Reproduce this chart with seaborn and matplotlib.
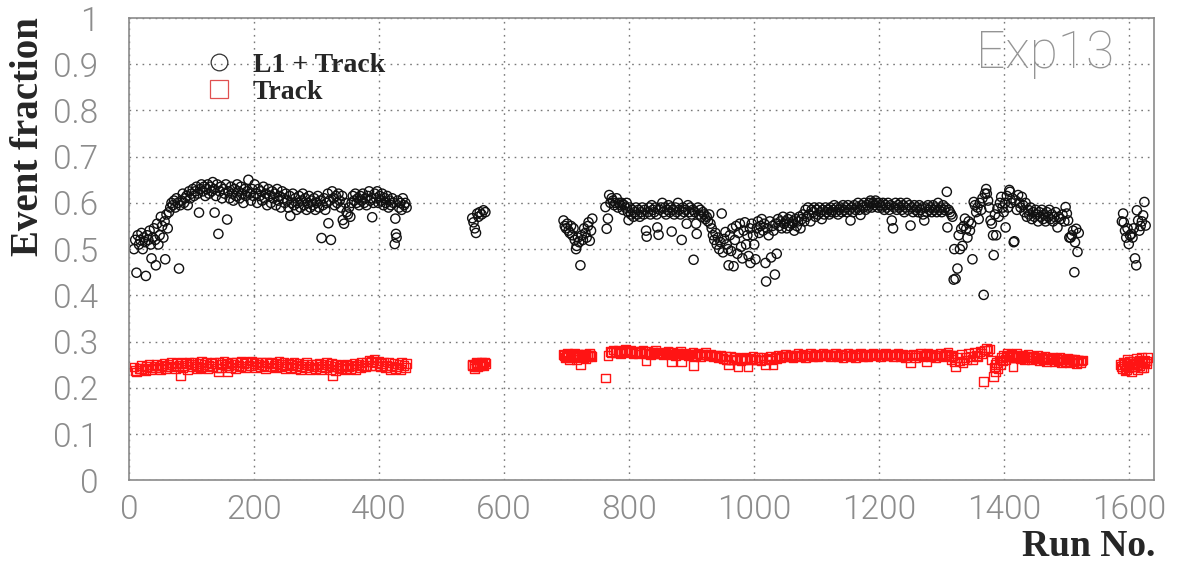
import pandas as pd
import matplotlib.pyplot as plt
import seaborn as sns
from matplotlib.lines import Line2D
from matplotlib.ticker import MultipleLocator

# (run number, event fraction), one list per block of runs
l1_runs_0_100 = [
    (8, .50), (10, .52), (12, .449), (14, .53), (16, .51), (18, .52), (20, .535), (22, .50),
    (24, .525), (26, .515), (27, .442), (29, .53), (31, .52), (33, .54), (35, .51), (36, .48),
    (38, .525), (40, .545), (42, .52), (43, .465), (45, .555), (47, .51), (49, .53), (51, .57),
    (53, .55), (55, .525), (57, .56), (58, .478), (60, .575), (62, .545), (64, .58), (66, .59),
    (68, .60), (70, .595), (72, .605), (74, .59), (76, .61), (78, .60), (80, .458), (82, .595),
    (84, .605), (86, .62), (88, .60), (90, .61), (92, .615), (94, .595), (96, .625), (98, .61),
    (100, .62),
]
l1_runs_100_300 = [
    (102, .63), (104, .615), (106, .625), (108, .635), (110, .62), (112, .579), (114, .63),
    (116, .64), (118, .625), (120, .635), (122, .615), (124, .63), (126, .64), (128, .62),
    (130, .635), (132, .625), (134, .645), (136, .63), (137, .579), (139, .615), (141, .64),
    (143, .533), (145, .625), (147, .635), (149, .61), (151, .63), (153, .62), (155, .64),
    (157, .564), (159, .625), (161, .61), (163, .635), (165, .62), (167, .605), (169, .63),
    (171, .615), (173, .64), (175, .625), (177, .61), (179, .635), (181, .62), (183, .60),
    (185, .63), (187, .615), (189, .625), (191, .65), (193, .62), (195, .605), (197, .63),
    (199, .615), (201, .64), (203, .62), (205, .60), (207, .63), (209, .615), (211, .625),
    (213, .605), (215, .635), (217, .61), (219, .62), (221, .595), (223, .63), (225, .615),
    (227, .60), (229, .625), (231, .61), (233, .62), (235, .595), (237, .63), (239, .605),
    (241, .615), (243, .59), (245, .625), (247, .61), (249, .60), (251, .62), (253, .605),
    (255, .59), (257, .615), (258, .572), (260, .60), (262, .62), (264, .595), (266, .61),
    (268, .585), (270, .60), (272, .615), (274, .59), (276, .605), (278, .62), (280, .595),
    (282, .61), (284, .585), (286, .60), (288, .615), (290, .59), (292, .605), (294, .595),
    (296, .61), (298, .585), (300, .60),
]
l1_runs_300_444 = [
    (302, .615), (304, .59), (306, .605), (308, .524), (310, .595), (312, .61), (314, .585),
    (316, .60), (318, .62), (319, .556), (321, .605), (323, .52), (325, .625), (327, .61),
    (329, .595), (331, .615), (333, .60), (335, .62), (337, .605), (339, .59), (341, .615),
    (342, .563), (344, .555), (346, .60), (348, .58), (350, .575), (352, .59), (354, .57),
    (356, .60), (358, .615), (360, .605), (362, .62), (364, .60), (366, .61), (368, .595),
    (370, .615), (372, .605), (374, .62), (376, .60), (378, .61), (380, .595), (382, .615),
    (384, .625), (386, .605), (388, .61), (389, .569), (391, .60), (393, .62), (395, .61),
    (397, .625), (399, .60), (401, .615), (403, .605), (405, .62), (407, .595), (409, .61),
    (411, .60), (413, .615), (415, .59), (417, .605), (419, .595), (421, .61), (423, .60),
    (425, .511), (426, .566), (427, .533), (428, .525), (430, .605), (432, .59), (434, .60),
    (436, .585), (438, .61), (440, .595), (442, .60), (444, .59),
]
l1_runs_549_770 = [
    (549, .567), (551, .558), (553, .545), (555, .535), (557, .577), (559, .57), (561, .58),
    (564, .575), (567, .584), (570, .58),
    (695, .562), (697, .55), (699, .545), (701, .555), (703, .54), (705, .535), (707, .55),
    (709, .53), (711, .545), (713, .52), (715, .50), (716, .507), (718, .525), (720, .515),
    (722, .465), (724, .53), (726, .52), (728, .545), (730, .535), (732, .525), (734, .55),
    (735, .558), (737, .518), (739, .54), (741, .566),
    (762, .591), (764, .544), (766, .566), (768, .617), (770, .60),
]
l1_runs_770_960 = [
    (772, .61), (774, .605), (776, .595), (778, .60), (780, .61), (782, .59), (784, .60),
    (786, .595), (788, .60), (790, .585), (792, .595), (794, .59), (796, .60), (798, .58),
    (799, .563), (801, .59), (803, .575), (805, .585), (807, .57), (809, .58), (811, .59),
    (813, .575), (815, .585), (817, .57), (819, .58), (821, .59), (823, .575), (825, .585),
    (827, .54), (828, .527), (830, .58), (832, .59), (834, .575), (836, .595), (838, .585),
    (840, .58), (842, .59), (844, .575), (845, .547), (847, .531), (849, .585), (851, .59),
    (853, .60), (855, .58), (857, .59), (859, .575), (861, .585), (863, .595), (865, .58),
    (867, .59), (868, .538), (870, .585), (872, .575), (874, .59), (876, .58), (878, .60),
    (880, .585), (882, .575), (884, .52), (886, .59), (888, .58), (890, .585), (892, .555),
    (894, .595), (896, .58), (898, .59), (900, .575), (902, .585), (903, .477), (905, .58),
    (907, .555), (908, .533), (910, .59), (912, .575), (914, .585), (916, .57), (918, .58),
    (920, .575), (922, .565), (924, .57), (926, .56), (928, .575), (930, .555), (932, .545),
    (934, .53), (936, .52), (938, .535), (940, .51), (942, .525), (944, .50), (946, .515),
    (948, .577), (950, .493), (952, .522), (954, .537), (956, .51), (958, .50), (959, .465),
]
l1_runs_960_1100 = [
    (961, .53), (963, .496), (965, .545), (967, .463), (969, .52), (971, .55), (973, .49),
    (975, .535), (977, .555), (979, .505), (981, .48), (983, .54), (985, .558), (987, .51),
    (989, .53), (991, .485), (993, .545), (994, .47), (996, .555), (998, .53), (1000, .51),
    (1002, .478), (1004, .545), (1006, .56), (1008, .535), (1010, .55), (1012, .565),
    (1014, .54), (1016, .555), (1018, .47), (1019, .43), (1021, .545), (1023, .53), (1025, .56),
    (1027, .482), (1029, .55), (1031, .54), (1033, .445), (1034, .555), (1036, .49),
    (1038, .565), (1040, .55), (1042, .56), (1044, .545), (1046, .57), (1048, .555),
    (1050, .56), (1052, .545), (1054, .565), (1056, .55), (1058, .57), (1060, .555),
    (1062, .56), (1064, .54), (1066, .565), (1068, .55), (1070, .56), (1072, .57), (1074, .545),
    (1076, .565), (1078, .575), (1080, .56), (1082, .585), (1084, .57), (1086, .59),
    (1088, .575), (1090, .56), (1092, .585), (1094, .58), (1096, .59), (1098, .57), (1100, .585),
]
l1_runs_1100_1318 = [
    (1102, .575), (1104, .59), (1106, .58), (1108, .565), (1110, .585), (1112, .575),
    (1114, .59), (1116, .58), (1118, .585), (1120, .575), (1122, .59), (1124, .58),
    (1126, .585), (1128, .595), (1130, .58), (1132, .59), (1134, .575), (1136, .585),
    (1138, .59), (1140, .58), (1142, .595), (1144, .585), (1146, .59), (1148, .58),
    (1150, .595), (1152, .585), (1154, .562), (1156, .59), (1158, .58), (1160, .595),
    (1162, .585), (1164, .59), (1166, .60), (1168, .585), (1170, .574), (1172, .595),
    (1174, .59), (1176, .60), (1178, .585), (1180, .595), (1182, .59), (1184, .60),
    (1186, .605), (1188, .59), (1190, .60), (1192, .595), (1194, .605), (1196, .60),
    (1198, .59), (1200, .60), (1202, .595), (1204, .59), (1206, .60), (1208, .585),
    (1210, .595), (1212, .59), (1214, .60), (1216, .585), (1218, .595), (1220, .562),
    (1222, .545), (1224, .59), (1226, .60), (1228, .585), (1230, .595), (1232, .59),
    (1234, .60), (1236, .585), (1238, .595), (1240, .58), (1242, .59), (1244, .60),
    (1246, .585), (1248, .595), (1250, .551), (1252, .59), (1254, .58), (1256, .595),
    (1258, .585), (1260, .59), (1262, .58), (1264, .595), (1266, .585), (1268, .59),
    (1270, .575), (1272, .562), (1274, .59), (1276, .58), (1278, .595), (1280, .585),
    (1282, .59), (1284, .58), (1286, .595), (1288, .585), (1290, .59), (1292, .58),
    (1294, .60), (1296, .585), (1298, .59), (1300, .58), (1302, .595), (1304, .585),
    (1306, .59), (1308, .624), (1309, .547), (1311, .585), (1313, .58), (1315, .575),
    (1317, .57),
]
l1_runs_1319_1630 = [
    (1319, .434), (1320, .50), (1322, .436), (1325, .458), (1327, .53), (1329, .50),
    (1331, .544), (1333, .507), (1335, .55), (1337, .566), (1339, .544), (1341, .525),
    (1343, .56), (1345, .54), (1347, .555), (1349, .478), (1351, .602), (1353, .595),
    (1355, .58), (1357, .59), (1359, .565), (1361, .60), (1363, .585), (1365, .61),
    (1367, .401), (1369, .62), (1371, .63), (1372, .62), (1374, .605), (1376, .59),
    (1378, .562), (1380, .555), (1382, .53), (1383, .487), (1385, .575), (1387, .53),
    (1389, .588), (1391, .57), (1393, .60), (1395, .613), (1397, .59), (1399, .58),
    (1401, .60), (1402, .547), (1404, .615), (1406, .59), (1408, .628), (1409, .624),
    (1411, .60), (1413, .61), (1415, .515), (1416, .517), (1418, .605), (1420, .585),
    (1422, .617), (1424, .60), (1426, .59), (1428, .613), (1430, .595), (1432, .58),
    (1434, .60), (1436, .57), (1438, .585), (1440, .575), (1442, .59), (1444, .565),
    (1446, .58), (1448, .57), (1450, .585), (1452, .575), (1454, .56), (1456, .58),
    (1458, .57), (1460, .585), (1462, .565), (1464, .575), (1466, .56), (1468, .58),
    (1470, .57), (1472, .585), (1474, .565), (1476, .575), (1478, .56), (1480, .57),
    (1482, .58), (1485, .547), (1487, .57), (1490, .565), (1493, .575), (1496, .56),
    (1498, .591), (1500, .577), (1502, .562), (1504, .525), (1506, .525), (1508, .53),
    (1510, .54), (1512, .45), (1513, .515), (1515, .544), (1517, .494), (1519, .535),
    (1588, .56), (1590, .577), (1591, .558), (1593, .54), (1595, .525), (1597, .545),
    (1599, .511), (1601, .53), (1603, .533), (1605, .525), (1607, .545), (1609, .48),
    (1611, .465), (1612, .584), (1614, .562), (1616, .54), (1618, .55), (1620, .56),
    (1622, .573), (1624, .602), (1626, .551),
]

track_runs_0_220 = [
    (8, .245), (12, .234), (16, .242), (20, .248), (24, .240), (28, .246), (32, .250),
    (36, .243), (40, .247), (44, .251), (48, .244), (52, .249), (56, .253), (60, .246),
    (64, .250), (68, .255), (72, .247), (76, .252), (80, .249), (82, .226), (84, .254),
    (88, .248), (92, .252), (96, .256), (100, .250), (104, .254), (108, .247), (112, .253),
    (114, .243), (116, .257), (120, .250), (124, .255), (128, .248), (132, .252), (136, .256),
    (140, .243), (143, .234), (144, .255), (148, .250), (152, .258), (156, .252), (157, .235),
    (160, .249), (164, .256), (168, .251), (172, .254), (176, .248), (180, .257), (184, .252),
    (188, .255), (192, .249), (196, .258), (200, .253), (204, .256), (208, .250), (212, .254),
    (216, .248), (220, .256),
]
track_runs_220_444 = [
    (224, .252), (228, .255), (232, .249), (236, .253), (240, .257), (244, .250), (248, .254),
    (252, .247), (256, .253), (260, .250), (264, .255), (268, .248), (272, .252), (276, .246),
    (280, .250), (284, .254), (288, .247), (292, .251), (296, .245), (300, .250), (304, .253),
    (308, .246), (312, .250), (316, .255), (320, .248), (324, .252), (325, .227), (328, .246),
    (332, .250), (336, .244), (340, .249), (344, .246), (348, .251), (352, .245), (356, .249),
    (360, .253), (364, .247), (368, .250), (372, .254), (376, .248), (380, .256), (384, .260),
    (388, .257), (392, .262), (396, .255), (400, .258), (404, .252), (408, .256), (412, .249),
    (416, .254), (420, .247), (424, .252), (428, .245), (432, .250), (436, .254), (440, .248),
    (444, .252),
]
track_runs_549_900 = [
    (549, .248), (552, .242), (555, .252), (558, .245), (561, .250), (564, .255), (567, .247),
    (570, .253),
    (695, .272), (698, .266), (701, .274), (704, .260), (707, .270), (710, .268), (713, .275),
    (716, .262), (719, .270), (722, .251), (725, .267), (728, .273), (731, .264), (734, .270),
    (737, .275), (740, .268), (762, .221),
    (766, .270), (770, .278), (774, .282), (778, .276), (782, .280), (786, .274), (790, .279),
    (794, .283), (798, .277), (802, .281), (806, .275), (810, .279), (814, .273), (818, .277),
    (822, .281), (826, .274), (827, .258), (830, .278), (834, .272), (838, .276), (842, .280),
    (846, .273), (850, .277), (854, .271), (858, .275), (862, .279), (866, .272), (868, .256),
    (870, .276), (874, .270), (878, .274), (882, .278), (884, .257), (886, .271), (890, .275),
    (894, .269), (898, .273),
]
track_runs_900_1110 = [
    (902, .277), (903, .248), (906, .270), (910, .274), (914, .268), (918, .272), (922, .276),
    (926, .269), (930, .273), (934, .267), (938, .271), (942, .265), (946, .270), (950, .264),
    (954, .268), (958, .262), (959, .250), (962, .267), (966, .261), (970, .266), (974, .245),
    (978, .264), (982, .260), (986, .265), (990, .246), (994, .263), (998, .268), (1002, .262),
    (1006, .266), (1010, .260), (1014, .265), (1018, .250), (1022, .264), (1026, .268),
    (1030, .250), (1034, .266), (1038, .270), (1042, .265), (1046, .269), (1050, .273),
    (1054, .267), (1058, .271), (1062, .266), (1066, .270), (1070, .274), (1074, .268),
    (1078, .272), (1082, .266), (1086, .270), (1090, .274), (1094, .268), (1098, .272),
    (1102, .267), (1106, .271), (1110, .275),
]
track_runs_1110_1380 = [
    (1114, .269), (1118, .273), (1122, .267), (1126, .271), (1130, .275), (1134, .268),
    (1138, .272), (1142, .266), (1146, .270), (1150, .274), (1154, .268), (1158, .272),
    (1162, .266), (1166, .270), (1170, .274), (1174, .268), (1178, .272), (1182, .267),
    (1186, .271), (1190, .275), (1194, .269), (1198, .273), (1202, .267), (1206, .271),
    (1210, .275), (1214, .269), (1218, .273), (1222, .267), (1226, .271), (1230, .275),
    (1234, .268), (1238, .272), (1242, .266), (1246, .270), (1250, .255), (1254, .272),
    (1258, .266), (1262, .270), (1266, .275), (1270, .268), (1274, .270), (1276, .257),
    (1278, .274), (1282, .268), (1286, .272), (1290, .266), (1294, .270), (1298, .274),
    (1302, .268), (1306, .272), (1310, .276), (1314, .270), (1316, .262), (1318, .270),
    (1320, .256), (1322, .246), (1325, .265), (1328, .258), (1331, .272), (1334, .254),
    (1337, .266), (1340, .260), (1343, .275), (1346, .268), (1349, .262), (1352, .276),
    (1355, .270), (1358, .268), (1361, .278), (1364, .274), (1367, .213), (1368, .282),
    (1371, .286), (1374, .280), (1377, .284), (1380, .260),
]
track_runs_1380_1630 = [
    (1383, .224), (1384, .245), (1386, .236), (1388, .255), (1390, .242), (1392, .260),
    (1394, .250), (1396, .265), (1399, .270), (1402, .262), (1405, .274), (1408, .268),
    (1411, .272), (1414, .246), (1417, .266), (1420, .274), (1423, .268), (1426, .264),
    (1429, .270), (1432, .262), (1435, .268), (1438, .272), (1441, .265), (1444, .260),
    (1447, .268), (1450, .263), (1453, .270), (1456, .258), (1459, .266), (1462, .261),
    (1465, .268), (1468, .256), (1471, .264), (1474, .260), (1477, .266), (1480, .256),
    (1483, .263), (1486, .258), (1489, .265), (1492, .255), (1495, .262), (1498, .257),
    (1501, .264), (1504, .254), (1507, .261), (1510, .256), (1513, .262), (1516, .252),
    (1519, .259), (1522, .255), (1525, .260),
    (1586, .250), (1589, .242), (1591, .256), (1593, .238), (1595, .248), (1597, .262),
    (1599, .244), (1601, .253), (1603, .236), (1605, .250), (1607, .258), (1609, .245),
    (1611, .264), (1613, .240), (1615, .254), (1617, .248), (1619, .265), (1621, .257),
    (1623, .243), (1625, .260), (1627, .252), (1629, .266),
]
track_fill_0_444 = [
    (10, .238), (18, .241), (26, .237), (34, .240), (42, .243), (50, .239), (58, .242),
    (66, .245), (74, .241), (86, .244), (94, .240), (102, .246), (110, .242), (118, .245),
    (126, .241), (134, .246), (146, .243), (154, .247), (162, .244), (170, .242), (178, .246),
    (186, .243), (194, .247), (202, .244), (210, .246), (218, .242), (226, .245), (234, .243),
    (242, .246), (250, .241), (258, .244), (266, .242), (274, .239), (282, .243), (290, .240),
    (298, .242), (306, .239), (314, .243), (322, .240), (330, .238), (338, .241), (346, .239),
    (354, .242), (362, .240), (370, .243), (378, .245), (386, .249), (394, .247), (402, .246),
    (410, .243), (418, .240), (426, .242), (434, .239), (442, .244),
]
track_fill_549_1040 = [
    (550, .250), (553, .246), (556, .254), (560, .248), (563, .252), (566, .250), (569, .256),
    (697, .270), (700, .268), (703, .272), (706, .266), (709, .271), (712, .270), (715, .266),
    (718, .272), (721, .268), (724, .270), (727, .265), (730, .272), (733, .268), (736, .271),
    (739, .270),
    (771, .276), (779, .279), (787, .277), (795, .280), (803, .278), (811, .276), (819, .279),
    (831, .275), (839, .277), (847, .275), (855, .274), (863, .276), (871, .273), (879, .275),
    (887, .273), (895, .272), (907, .273), (915, .271), (923, .272), (931, .270), (939, .269),
    (947, .268), (955, .262), (963, .260), (971, .262), (979, .259), (987, .261), (995, .260),
    (1003, .262), (1011, .259), (1019, .261), (1027, .260), (1035, .263),
]
track_fill_1040_1630 = [
    (1043, .267), (1051, .269), (1059, .268), (1067, .270), (1075, .269), (1083, .271),
    (1091, .270), (1099, .271), (1107, .270), (1115, .272), (1123, .271), (1131, .270),
    (1139, .272), (1147, .271), (1155, .270), (1163, .272), (1171, .271), (1179, .270),
    (1187, .272), (1195, .271), (1203, .272), (1211, .270), (1219, .271), (1227, .272),
    (1235, .270), (1243, .271), (1251, .270), (1259, .271), (1267, .270), (1275, .272),
    (1283, .270), (1291, .271), (1299, .270), (1307, .272), (1315, .268),
    (1385, .250), (1397, .258), (1403, .268), (1409, .270), (1415, .266), (1421, .270),
    (1427, .266), (1433, .268), (1439, .265), (1445, .266), (1451, .264), (1457, .265),
    (1463, .263), (1469, .264), (1475, .262), (1481, .263), (1487, .261), (1493, .262),
    (1499, .260), (1505, .261), (1511, .259), (1517, .260), (1523, .258),
    (1588, .246), (1592, .252), (1596, .240), (1600, .258), (1604, .246), (1608, .252),
    (1612, .250), (1616, .260), (1620, .244), (1624, .255), (1628, .258),
]

l1_label = "L1 + Track"
track_label = "Track"
x_ticks = [0, 200, 400, 600, 800, 1000, 1200, 1400, 1600]
y_ticks = [0, 0.1, 0.2, 0.3, 0.4, 0.5, 0.6, 0.7, 0.8, 0.9, 1]
y_tick_labels = ["0", "0.1", "0.2", "0.3", "0.4", "0.5", "0.6", "0.7", "0.8", "0.9", "1"]


def to_frame(blocks):
    rows = [pair for block in blocks for pair in block]
    return pd.DataFrame(rows, columns=["run", "fraction"])


l1_data = to_frame([l1_runs_0_100, l1_runs_100_300, l1_runs_300_444, l1_runs_549_770,
                    l1_runs_770_960, l1_runs_960_1100, l1_runs_1100_1318, l1_runs_1319_1630])
track_data = to_frame([track_runs_0_220, track_runs_220_444, track_runs_549_900,
                       track_runs_900_1110, track_runs_1110_1380, track_runs_1380_1630,
                       track_fill_0_444, track_fill_549_1040, track_fill_1040_1630])

sns.set_style("white")
plt.rcParams["font.family"] = ["Roboto", "DejaVu Sans"]

fig = plt.figure(figsize=(11.8, 5.63), dpi=100)
ax = fig.add_axes([0.1093, 0.147, 0.869, 0.821])

sns.scatterplot(data=track_data, x="run", y="fraction", ax=ax, marker="s", s=40,
                facecolors="none", edgecolor="#ff1414", linewidth=1.0)
sns.scatterplot(data=l1_data, x="run", y="fraction", ax=ax, marker="o", s=44,
                facecolors="none", edgecolor="#101010", linewidth=1.0)

ax.set_xlim(0, 1640)
ax.set_ylim(0, 1)
ax.set_xticks(x_ticks)
ax.set_yticks(y_ticks)
ax.set_yticklabels(y_tick_labels)
ax.xaxis.set_minor_locator(MultipleLocator(50))
ax.yaxis.set_minor_locator(MultipleLocator(0.02))
ax.set_xlabel("")
ax.set_ylabel("")

grey = "#8c8c8c"
ax.grid(True, which="major", linestyle=(0, (1.2, 3.5)), color="#7a7a7a", linewidth=1.0)
ax.tick_params(axis="both", which="both", direction="in", colors=grey,
               labelcolor=grey, labelsize=24, top=False, right=False)
ax.tick_params(axis="y", which="major", length=13, width=1, pad=22)
ax.tick_params(axis="y", which="minor", length=7, width=1)
ax.tick_params(axis="x", which="major", length=10, width=1, pad=10)
ax.tick_params(axis="x", which="minor", length=5, width=1)
for lab in ax.get_xticklabels() + ax.get_yticklabels():
    lab.set_fontweight(300)
for spine in ax.spines.values():
    spine.set_color("#8a8a8a")
    spine.set_linewidth(1.2)

serif_bold = {"family": ["Liberation Serif", "DejaVu Serif"], "weight": "bold"}
fig.text(0.024, 1 - 137 / 563, "Event fraction", rotation=90, ha="center", va="center",
         fontsize=28, **serif_bold)
fig.text(1155 / 1180, 1 - 546 / 563, "Run No.", ha="right", va="center",
         fontsize=27, **serif_bold)
ax.text(0.961, 0.922, "Exp13", transform=ax.transAxes, ha="right", va="center",
        fontsize=37, color="#949494", fontweight=100)

handles = [
    Line2D([], [], linestyle="none", marker="o", markersize=12, markerfacecolor="none",
           markeredgecolor="#333333", markeredgewidth=0.9),
    Line2D([], [], linestyle="none", marker="s", markersize=13, markerfacecolor="none",
           markeredgecolor="#e05050", markeredgewidth=0.9),
]
ax.legend(handles, [l1_label, track_label], loc="upper left", bbox_to_anchor=(0.061, 0.95),
          frameon=False, prop={"family": ["Liberation Serif"], "weight": "bold", "size": 20},
          handletextpad=0.6, labelspacing=0.05, handlelength=1.2, borderaxespad=0)

fig.savefig("out.png", dpi=100)
